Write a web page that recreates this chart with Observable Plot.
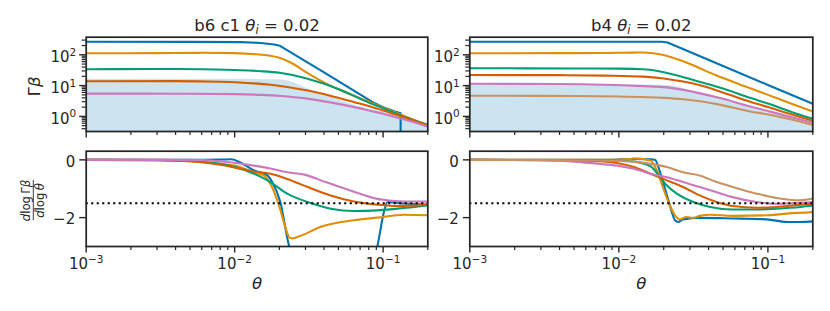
<!DOCTYPE html>
<html><head><meta charset="utf-8">
<script src="https://cdn.jsdelivr.net/npm/d3@7"></script>
<script src="https://cdn.jsdelivr.net/npm/@observablehq/plot@0.6"></script>
<style>
html,body{margin:0;padding:0;background:#fff;}
#chart{position:relative;width:830px;height:311px;overflow:hidden;background:#fff;}
#chart svg{position:absolute;left:0;top:0;}
</style></head><body><div id="chart"></div>
<script>
// ---------- data (θ, value) ----------
const titles = ["b6 c1 θi = 0.02", "b4 θi = 0.02"];
const seriesNames = ["blue", "orange", "green", "red", "pink", "brown"];
const seriesColors = ["#0173b2", "#de8f05", "#029e73", "#d55e00", "#cc78bc", "#ca9161"];
const xMajorTicks = [1e-3, 1e-2, 1e-1];
const xMinorTicks = [0.002,0.003,0.004,0.005,0.006,0.007,0.008,0.009,0.02,0.03,0.04,0.05,0.06,0.07,0.08,0.09,0.2];
const yTopMajorTicks = [1, 10, 100];
const yTopMinorTicks = [0.4,0.5,0.6,0.7,0.8,0.9,2,3,4,5,6,7,8,9,20,30,40,50,60,70,80,90,200,300];
const yBottomTicks = [0, -2];
const referenceSlope = -1.5;

// left column, Γβ
const gbL_fill   = [[0.001,16],[0.01,16],[0.02,15.5],[0.023,14],[0.026,11.5],[0.03,8.4],[0.038,5.6],[0.05,3.5],[0.064,2.3],[0.083,1.7],[0.1,1.35],[0.139,0.85],[0.2,0.5]];
const gbL_blue   = [[0.001,265],[0.005,263],[0.011,258],[0.015,243],[0.0185,215],[0.0202,196],[0.04,27],[0.085,2.9],[0.1,2.0],[0.12,1.45],[0.1312,1.27],[0.1314,0.01]];
const gbL_orange = [[0.001,112],[0.003,113],[0.006,116],[0.01,113],[0.014,104],[0.017,95],[0.02,80],[0.024,55],[0.03,28],[0.044,10],[0.06,5.2],[0.083,2.8],[0.1,1.95],[0.15,0.88],[0.2,0.51]];
const gbL_green  = [[0.001,34],[0.003,34.5],[0.006,34],[0.01,32],[0.015,29.4],[0.02,26],[0.031,16.6],[0.052,7.2],[0.083,2.6],[0.1,1.85],[0.139,0.95],[0.2,0.53]];
const gbL_red    = [[0.001,13.8],[0.004,14],[0.008,13.3],[0.0135,11.8],[0.0174,10.6],[0.0226,9.0],[0.031,6.9],[0.044,4.7],[0.064,2.9],[0.083,2.05],[0.1,1.55],[0.139,0.92],[0.2,0.51]];
const gbL_pink   = [[0.001,5.5],[0.005,5.45],[0.01,5.3],[0.015,5.0],[0.0205,4.6],[0.03,3.85],[0.044,2.85],[0.064,2.0],[0.083,1.5],[0.1,1.22],[0.139,0.79],[0.2,0.47]];

// right column, Γβ
const gbR_fill   = [[0.001,10.5],[0.01,10.5],[0.02,10.2],[0.025,9],[0.03,6.8],[0.047,4.0],[0.076,2.05],[0.1,1.45],[0.127,1.05],[0.2,0.5]];
const gbR_blue   = [[0.001,265],[0.005,265],[0.01,265],[0.0195,265],[0.0212,252],[0.025,180],[0.05,43],[0.1,10.5],[0.15,4.6],[0.2,2.57]];
const gbR_orange = [[0.001,112],[0.004,113],[0.008,115],[0.0125,118],[0.0146,119],[0.017,112],[0.0205,95],[0.025,70],[0.03,50],[0.0444,22],[0.07,9.5],[0.1,5.0],[0.15,2.4],[0.2,1.44]];
const gbR_green  = [[0.001,36.7],[0.005,36],[0.01,35.5],[0.0146,34],[0.0175,31],[0.02,27],[0.025,21],[0.03,16.5],[0.04,11],[0.05,8],[0.076,4.0],[0.1,2.6],[0.15,1.3],[0.2,0.84]];
const gbR_red    = [[0.001,22],[0.004,21.8],[0.008,21],[0.0146,19.5],[0.02,17],[0.027,13.5],[0.035,10.2],[0.047,6.6],[0.076,3.0],[0.1,2.0],[0.127,1.4],[0.2,0.72]];
const gbR_pink   = [[0.001,11.5],[0.004,11.3],[0.008,10.7],[0.0146,9.6],[0.02,8.9],[0.03,6.6],[0.047,4.0],[0.076,2.1],[0.1,1.5],[0.127,1.1],[0.2,0.62]];
const gbR_brown  = [[0.001,4.7],[0.005,4.6],[0.01,4.4],[0.016,4.2],[0.02,4.0],[0.027,3.6],[0.035,3.1],[0.0455,2.5],[0.076,1.45],[0.1,1.15],[0.127,0.9],[0.2,0.53]];

// left column, dlogΓβ/dlogθ
const slL_blue   = [[0.001,0],[0.005,0],[0.008,0.01],[0.0095,0.02],[0.011,-0.1],[0.0135,-0.37],[0.0166,-0.54],[0.0179,-0.77],[0.0203,-1.46],[0.0232,-2.96],[0.026,-3.6],[0.085,-3.6],[0.0914,-3.0],[0.1014,-1.8],[0.107,-1.46],[0.13,-1.5],[0.2,-1.55]];
const slL_orange = [[0.001,0],[0.003,0],[0.005,-0.05],[0.008,-0.14],[0.01,-0.2],[0.0135,-0.43],[0.0157,-0.54],[0.0174,-0.83],[0.0199,-1.58],[0.0221,-2.38],[0.0232,-2.67],[0.0244,-2.72],[0.0278,-2.63],[0.038,-2.32],[0.0636,-2.09],[0.0914,-2.0],[0.139,-1.9],[0.2,-1.92]];
const slL_green  = [[0.001,0],[0.003,-0.01],[0.005,-0.04],[0.008,-0.14],[0.01,-0.25],[0.0135,-0.48],[0.0174,-0.77],[0.0226,-1.17],[0.031,-1.46],[0.0443,-1.69],[0.0636,-1.77],[0.0914,-1.75],[0.125,-1.69],[0.2,-1.58]];
const slL_red    = [[0.001,0],[0.003,-0.01],[0.005,-0.05],[0.008,-0.17],[0.0135,-0.4],[0.0174,-0.48],[0.0226,-0.66],[0.031,-0.94],[0.0443,-1.23],[0.0636,-1.44],[0.0914,-1.55],[0.125,-1.6],[0.2,-1.55]];
const slL_pink   = [[0.001,0],[0.005,0],[0.008,-0.05],[0.0099,-0.1],[0.0135,-0.2],[0.0174,-0.3],[0.0226,-0.43],[0.03,-0.52],[0.041,-0.77],[0.0636,-1.1],[0.0914,-1.35],[0.1,-1.38],[0.139,-1.44],[0.2,-1.44]];

// right column, dlogΓβ/dlogθ
const slR_blue   = [[0.001,0],[0.008,0],[0.012,0.03],[0.0163,0.02],[0.0175,0],[0.0189,-0.43],[0.0204,-1.0],[0.022,-1.58],[0.0238,-2.09],[0.025,-2.15],[0.027,-2.06],[0.0348,-2.01],[0.058,-2.03],[0.098,-2.06],[0.134,-2.15],[0.165,-2.15],[0.2,-2.13]];
const slR_orange = [[0.001,0],[0.008,0],[0.0119,0.03],[0.0126,0.05],[0.0163,-0.02],[0.018,-0.37],[0.0199,-1.0],[0.022,-1.58],[0.0238,-1.92],[0.0258,-2.06],[0.0284,-1.98],[0.0316,-2.01],[0.0348,-1.94],[0.041,-1.9],[0.058,-1.94],[0.098,-1.92],[0.134,-1.86],[0.2,-1.81]];
const slR_green  = [[0.001,0],[0.005,-0.01],[0.01,-0.03],[0.0126,-0.06],[0.0163,-0.22],[0.0189,-0.6],[0.021,-0.89],[0.0245,-1.17],[0.0316,-1.46],[0.041,-1.63],[0.058,-1.72],[0.084,-1.72],[0.114,-1.69],[0.165,-1.63],[0.2,-1.58]];
const slR_red    = [[0.001,0],[0.004,-0.01],[0.0075,-0.05],[0.0126,-0.25],[0.0163,-0.48],[0.021,-0.71],[0.027,-0.94],[0.0348,-1.23],[0.0453,-1.46],[0.058,-1.6],[0.084,-1.66],[0.114,-1.63],[0.165,-1.55],[0.2,-1.52]];
const slR_pink   = [[0.001,0],[0.003,-0.01],[0.005,-0.06],[0.0075,-0.14],[0.0097,-0.2],[0.0126,-0.31],[0.0163,-0.48],[0.021,-0.6],[0.027,-0.77],[0.0348,-0.94],[0.0453,-1.12],[0.058,-1.29],[0.084,-1.46],[0.114,-1.52],[0.2,-1.46]];
const slR_brown  = [[0.001,0],[0.0075,-0.02],[0.0126,-0.06],[0.0163,-0.14],[0.021,-0.25],[0.027,-0.43],[0.0348,-0.54],[0.0453,-0.77],[0.058,-0.94],[0.084,-1.17],[0.114,-1.32],[0.165,-1.4],[0.2,-1.34]];

// ---------- layout ----------
const W = 830, H = 311;
const COLS = {left: [85.7, 427.3], right: [469.3, 812.3]};
const ROWS = {top: [36.7, 131], bottom: [150.7, 246]};
const INK = "#262626";
const FILL = "#0173b2";

const RICH = {
  "b6 c1 θi = 0.02": [["b6 c1 "], ["θ", "i"], ["i", "i", "sub"], [" = 0.02"]],
  "b4 θi = 0.02": [["b4 "], ["θ", "i"], ["i", "i", "sub"], [" = 0.02"]],
  "Γβ": [["Γ"], ["β", "i"]],
  "dlog Γβ": [["d", "i"], ["log\u2009"], ["Γ"], ["β", "i"]],
  "dlog θ": [["d", "i"], ["log\u2009"], ["θ", "i"]]
};

function fmtPow(d) {
  const e = Math.round(Math.log10(d));
  return "10^" + (e < 0 ? "\u2212" + (-e) : String(e));
}
const fmtLin = d => d < 0 ? "\u2212" + (-d) : String(d);
const blank = () => "";

function colorOf(name) { return seriesColors[seriesNames.indexOf(name)]; }
function lineMark(data, name, curve = "monotone-x") {
  return Plot.line(data, {x: d => d[0], y: d => d[1], stroke: colorOf(name), strokeWidth: 2.1, curve, clip: true, strokeLinejoin: "round"});
}

function xAxes(labels) {
  return [
    Plot.axisX({ticks: xMinorTicks, tickSize: 4, tickFormat: blank, fill: "none", stroke: INK, strokeWidth: 1.2, label: null}),
    Plot.axisX({ticks: xMajorTicks, tickSize: 6.5, tickPadding: 5.5, tickFormat: labels ? fmtPow : blank, fill: labels ? INK : "none", stroke: INK, strokeWidth: 1.4, fontSize: 15, label: null})
  ];
}

function makePlot(col, row, y, marks) {
  const [x0, x1] = COLS[col], [y0, y1] = ROWS[row];
  return Plot.plot({
    width: W, height: H,
    marginLeft: x0, marginRight: W - x1, marginTop: y0, marginBottom: H - y1,
    style: {background: "transparent", fontFamily: "'DejaVu Sans', sans-serif", fontSize: "15px", color: INK, overflow: "visible"},
    x: {type: "log", domain: [1e-3, 0.2]},
    y,
    marks
  });
}

const yTop = {type: "log", domain: [0.323, 373]};
const yBot = {type: "linear", domain: [-3, 0.3]};

function topAxesY() {
  return [
    Plot.axisY({ticks: yTopMinorTicks, tickSize: 4, tickFormat: blank, fill: "none", stroke: INK, strokeWidth: 1.2, label: null}),
    Plot.axisY({ticks: yTopMajorTicks, tickSize: 6.5, tickFormat: blank, fill: "none", stroke: INK, strokeWidth: 1.4, label: null}),
    Plot.axisY({ticks: yTopMajorTicks, tickSize: 6.5, tickPadding: 3.5, tickFormat: fmtPow, stroke: "none", fill: INK, fontSize: 15, dy: 2.5, label: null})
  ];
}
function botAxesY() {
  return [
    Plot.axisY({ticks: yBottomTicks, tickSize: 6.5, tickFormat: blank, fill: "none", stroke: INK, strokeWidth: 1.4, label: null}),
    Plot.axisY({ticks: yBottomTicks, tickSize: 6.5, tickPadding: 4.5, tickFormat: fmtLin, stroke: "none", fill: INK, fontSize: 15, dy: 2, label: null})
  ];
}
const frame = () => Plot.frame({stroke: INK, strokeWidth: 1.75});
const fillMark = data => Plot.areaY(data, {x: d => d[0], y1: () => 0.05, y2: d => d[1], fill: FILL, fillOpacity: 0.2, curve: "monotone-x", clip: true});
const slopeRule = () => Plot.ruleY([referenceSlope], {stroke: "#000", strokeWidth: 2.1, strokeDasharray: "2.1,3.4"});
const titleMark = t => Plot.text([t], {text: d => d, frameAnchor: "top", textAnchor: "middle", lineAnchor: "bottom", dy: -6.2, fontSize: 16.5, fill: INK});
const xLabelMark = () => Plot.text(["θ"], {text: d => d, frameAnchor: "bottom", textAnchor: "middle", lineAnchor: "bottom", dy: 42, fontSize: 16.5, fontStyle: "italic", fill: INK});
const yLabelMark = (t, dx, dy, fs) => Plot.text([t], {text: d => d, frameAnchor: "left", textAnchor: "middle", rotate: -90, lineAnchor: "bottom", dx, dy, fontSize: fs, fill: INK});

const plots = [
  makePlot("left", "top", yTop, [
    fillMark(gbL_fill),
    lineMark(gbL_blue, "blue", "linear"), lineMark(gbL_orange, "orange"), lineMark(gbL_green, "green"),
    lineMark(gbL_red, "red"), lineMark(gbL_pink, "pink"),
    ...xAxes(false), ...topAxesY(), frame(),
    titleMark(titles[0]),
    yLabelMark("Γβ", -45.7, 2, 16.5)
  ]),
  makePlot("right", "top", yTop, [
    fillMark(gbR_fill),
    lineMark(gbR_blue, "blue", "linear"), lineMark(gbR_orange, "orange"), lineMark(gbR_green, "green"),
    lineMark(gbR_red, "red"), lineMark(gbR_pink, "pink"), lineMark(gbR_brown, "brown"),
    ...xAxes(false), ...topAxesY(), frame(),
    titleMark(titles[1])
  ]),
  makePlot("left", "bottom", yBot, [
    lineMark(slL_blue, "blue"), lineMark(slL_orange, "orange"), lineMark(slL_green, "green"),
    lineMark(slL_red, "red"), lineMark(slL_pink, "pink"),
    slopeRule(),
    ...xAxes(true), ...botAxesY(), frame(),
    xLabelMark(),
    yLabelMark("dlog Γβ", -56.2, 1.6, 11.7),
    yLabelMark("dlog θ", -41.9, 1.6, 11.7)
  ]),
  makePlot("right", "bottom", yBot, [
    lineMark(slR_blue, "blue"), lineMark(slR_orange, "orange"), lineMark(slR_green, "green"),
    lineMark(slR_red, "red"), lineMark(slR_pink, "pink"), lineMark(slR_brown, "brown"),
    slopeRule(),
    ...xAxes(true), ...botAxesY(), frame(),
    xLabelMark()
  ])
];

const root = document.getElementById("chart");
plots.forEach(p => root.appendChild(p));

// rich text (italics, super/subscripts) as tspans
function richify(svg) {
  d3.select(svg).selectAll("text").each(function() {
    const t = this.textContent;
    let spec = RICH[t];
    const m = /^10\^(.+)$/.exec(t);
    if (m) spec = [["10"], [m[1], "", "sup"]];
    if (!spec) return;
    const fs = parseFloat(getComputedStyle(this).fontSize) || 15;
    this.textContent = "";
    let shift = 0;
    for (const [s, style, pos] of spec) {
      const ts = d3.select(this).append("tspan").text(s);
      if (style === "i") ts.attr("font-style", "italic");
      const target = pos === "sup" ? -0.42 * fs : pos === "sub" ? 0.2 * fs : 0;
      if (target !== shift) { ts.attr("dy", target - shift); shift = target; }
      if (pos) ts.attr("font-size", (0.7 * fs) + "px");
    }
  });
}
plots.forEach(richify);

// fraction bar of the lower y label
d3.select(plots[2]).append("line")
  .attr("x1", 33.3).attr("x2", 33.3).attr("y1", 180).attr("y2", 220)
  .attr("stroke", INK).attr("stroke-width", 0.9);
</script></body></html>
